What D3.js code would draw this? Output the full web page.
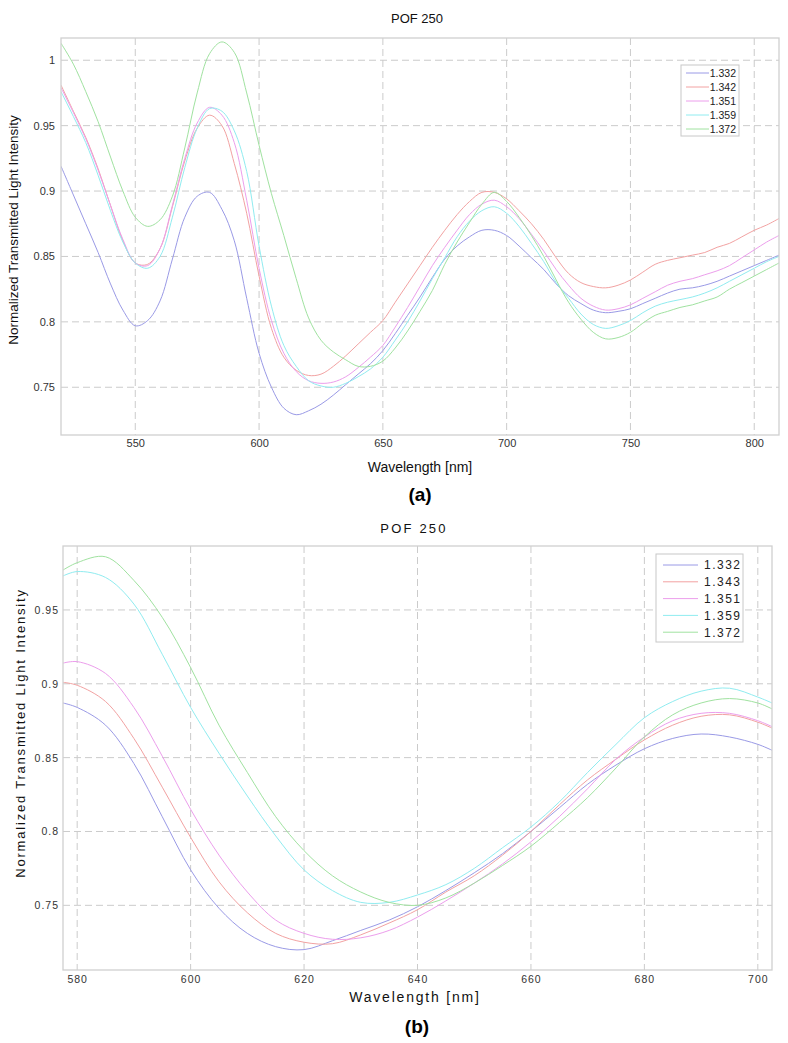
<!DOCTYPE html>
<html>
<head>
<meta charset="utf-8">
<script src="https://cdn.jsdelivr.net/npm/d3@7"></script>
<style>
  body { margin: 0; background: #fff; }
  svg text { font-family: "Liberation Sans", Arial, sans-serif; }
</style>
</head>
<body>
<svg id="fig" width="788" height="1043"></svg>
<script>
// ---- panel (a): full spectrum ----
const wavelengthA = [520,525,530,535,540,545,550,555,560,565,570,575,580,585,590,595,600,605,610,615,620,625,630,635,640,645,650,655,660,665,670,675,680,685,690,695,700,705,710,715,720,725,730,735,740,745,750,755,760,765,770,775,780,785,790,795,800,805,810];
const labelsA = ["1.332", "1.342", "1.351", "1.359", "1.372"];
const ri1332A = [0.919,0.897,0.875,0.853,0.829,0.809,0.797,0.801,0.816,0.848,0.880,0.896,0.899,0.886,0.862,0.818,0.776,0.750,0.734,0.729,0.732,0.737,0.744,0.752,0.760,0.768,0.778,0.791,0.805,0.819,0.834,0.848,0.858,0.865,0.870,0.870,0.866,0.858,0.849,0.840,0.829,0.820,0.814,0.809,0.807,0.808,0.810,0.814,0.818,0.822,0.825,0.826,0.828,0.831,0.835,0.839,0.843,0.847,0.851];
const ri1342A = [0.981,0.961,0.941,0.917,0.889,0.862,0.845,0.844,0.856,0.888,0.923,0.948,0.958,0.950,0.921,0.883,0.835,0.795,0.773,0.763,0.759,0.760,0.766,0.774,0.783,0.792,0.801,0.815,0.829,0.843,0.857,0.870,0.882,0.892,0.899,0.899,0.894,0.885,0.875,0.863,0.849,0.837,0.830,0.827,0.826,0.828,0.832,0.838,0.844,0.847,0.849,0.851,0.853,0.857,0.860,0.865,0.870,0.874,0.879];
const ri1351A = [0.979,0.960,0.940,0.916,0.889,0.863,0.845,0.843,0.856,0.889,0.925,0.952,0.964,0.958,0.937,0.893,0.841,0.801,0.776,0.762,0.755,0.753,0.754,0.758,0.765,0.773,0.782,0.796,0.811,0.827,0.843,0.857,0.870,0.882,0.890,0.893,0.888,0.879,0.867,0.854,0.840,0.828,0.818,0.812,0.809,0.810,0.813,0.818,0.823,0.828,0.831,0.833,0.836,0.839,0.843,0.849,0.855,0.861,0.866];
const ri1359A = [0.976,0.957,0.937,0.912,0.885,0.861,0.845,0.841,0.850,0.880,0.918,0.948,0.963,0.961,0.946,0.915,0.858,0.812,0.782,0.766,0.755,0.751,0.750,0.753,0.758,0.764,0.773,0.786,0.800,0.816,0.833,0.849,0.865,0.877,0.885,0.888,0.883,0.873,0.860,0.846,0.830,0.818,0.806,0.798,0.795,0.797,0.801,0.807,0.812,0.815,0.817,0.819,0.822,0.826,0.831,0.836,0.841,0.846,0.850];
const ri1372A = [1.013,0.997,0.976,0.953,0.926,0.900,0.880,0.873,0.878,0.896,0.933,0.975,1.005,1.014,1.006,0.975,0.935,0.898,0.866,0.833,0.803,0.786,0.777,0.771,0.766,0.766,0.770,0.780,0.793,0.808,0.824,0.844,0.861,0.876,0.890,0.899,0.892,0.880,0.866,0.850,0.832,0.815,0.802,0.792,0.787,0.788,0.792,0.799,0.805,0.808,0.811,0.813,0.816,0.819,0.825,0.830,0.835,0.840,0.845];
const xTicksA = [550, 600, 650, 700, 750, 800];
const yTicksA = [0.75, 0.8, 0.85, 0.9, 0.95, 1];

// ---- panel (b): zoom on the 577-703 nm band ----
const wavelengthB = [577.5,580,585,590,595,600,605,610,615,620,625,630,635,640,645,650,655,660,665,670,675,680,685,690,695,700,702.5];
const labelsB = ["1.332", "1.343", "1.351", "1.359", "1.372"];
const ri1332B = [0.887,0.884,0.872,0.846,0.810,0.774,0.748,0.731,0.722,0.720,0.726,0.733,0.740,0.749,0.760,0.772,0.785,0.800,0.816,0.832,0.845,0.856,0.863,0.866,0.864,0.859,0.855];
const ri1343B = [0.901,0.899,0.888,0.863,0.830,0.796,0.766,0.745,0.731,0.725,0.724,0.730,0.738,0.747,0.759,0.770,0.784,0.800,0.818,0.835,0.849,0.862,0.872,0.878,0.879,0.874,0.870];
const ri1351B = [0.914,0.915,0.907,0.884,0.851,0.815,0.784,0.759,0.740,0.731,0.727,0.728,0.733,0.742,0.753,0.765,0.778,0.793,0.810,0.829,0.849,0.864,0.875,0.880,0.880,0.875,0.871];
const ri1359B = [0.973,0.976,0.972,0.954,0.920,0.884,0.853,0.824,0.797,0.774,0.760,0.752,0.752,0.757,0.764,0.775,0.789,0.803,0.820,0.840,0.859,0.877,0.888,0.895,0.897,0.891,0.887];
const ri1372B = [0.977,0.982,0.986,0.970,0.945,0.911,0.872,0.840,0.810,0.787,0.770,0.759,0.752,0.750,0.755,0.765,0.777,0.790,0.806,0.823,0.843,0.864,0.879,0.887,0.890,0.887,0.883];
const xTicksB = [580, 600, 620, 640, 660, 680, 700];
const yTicksB = [0.75, 0.8, 0.85, 0.9, 0.95];

const lineColors = ["#9a9ae6", "#f2a2a2", "#ec9eec", "#90ecf0", "#a0e2a0"];

const svg = d3.select("#fig");
svg.append("rect").attr("width", 788).attr("height", 1043).attr("fill", "#fff");

function drawPanel(p) {
  const x = d3.scaleLinear().domain(p.xDomain).range([p.left, p.right]);
  const y = d3.scaleLinear().domain(p.yDomain).range([p.bottom, p.top]);
  const g = svg.append("g");

  g.append("clipPath").attr("id", p.id + "-clip")
    .append("rect").attr("x", p.left).attr("y", p.top)
    .attr("width", p.right - p.left).attr("height", p.bottom - p.top);

  // dashed grid
  g.append("g").selectAll("line").data(p.xTicks).join("line")
    .attr("x1", d => x(d)).attr("x2", d => x(d))
    .attr("y1", p.top).attr("y2", p.bottom)
    .attr("stroke", "#cbcbcb").attr("stroke-dasharray", "7,4");
  g.append("g").selectAll("line").data(p.yTicks).join("line")
    .attr("x1", p.left).attr("x2", p.right)
    .attr("y1", d => y(d)).attr("y2", d => y(d))
    .attr("stroke", "#cbcbcb").attr("stroke-dasharray", "7,4");

  // curves
  const line = d3.line().curve(d3.curveCatmullRom.alpha(0.5))
    .x((d, i) => x(p.wl[i])).y(d => y(d));
  g.append("g").attr("clip-path", `url(#${p.id}-clip)`)
    .selectAll("path").data(p.series).join("path")
    .attr("d", d => line(d))
    .attr("fill", "none")
    .attr("stroke", (d, i) => lineColors[i])
    .attr("stroke-width", 1);

  // frame
  g.append("rect")
    .attr("x", p.left).attr("y", p.top)
    .attr("width", p.right - p.left).attr("height", p.bottom - p.top)
    .attr("fill", "none").attr("stroke", "#d0d0d0").attr("stroke-width", 1.3);

  // axes
  const xAxis = g.append("g").attr("transform", `translate(0,${p.bottom})`)
    .call(d3.axisBottom(x).tickValues(p.xTicks).tickSize(0).tickPadding(p.xPad).tickFormat(d => String(d)));
  const yAxis = g.append("g").attr("transform", `translate(${p.left},0)`)
    .call(d3.axisLeft(y).tickValues(p.yTicks).tickSize(0).tickPadding(p.yPad).tickFormat(d => String(d)));
  [xAxis, yAxis].forEach(a => {
    a.select(".domain").remove();
    a.selectAll("text")
      .attr("font-family", '"Liberation Sans", Arial, sans-serif')
      .attr("font-size", p.tickSize).attr("fill", "#333")
      .attr("letter-spacing", p.tickSpacing);
  });

  // title + axis labels
  g.append("text").attr("x", p.titleX).attr("y", p.titleY)
    .attr("text-anchor", "middle").attr("font-size", 13)
    .attr("letter-spacing", p.titleSpacing).attr("fill", "#111")
    .text("POF 250");
  g.append("text").attr("x", p.xLabelX).attr("y", p.xLabelY)
    .attr("text-anchor", "middle").attr("font-size", 14)
    .attr("letter-spacing", p.labelSpacing).attr("fill", "#111")
    .text("Wavelength [nm]");
  g.append("text")
    .attr("transform", `translate(${p.yLabelX},${p.yLabelY}) rotate(-90)`)
    .attr("text-anchor", "middle").attr("font-size", p.yLabelSize)
    .attr("letter-spacing", p.labelSpacing).attr("fill", "#111")
    .text("Normalized Transmitted Light Intensity");

  // panel tag
  g.append("text").attr("x", p.tagX).attr("y", p.tagY)
    .attr("text-anchor", "middle").attr("font-size", 19).attr("font-weight", "bold")
    .attr("font-family", '"Liberation Serif", "Times New Roman", serif')
    .text(p.tag);

  // legend
  const L = p.legend;
  const lg = g.append("g");
  lg.append("rect").attr("x", L.x).attr("y", L.y).attr("width", L.w).attr("height", L.h)
    .attr("fill", "#fff").attr("stroke", "#c8c8c8");
  p.labels.forEach((name, i) => {
    const yy = L.row0 + i * L.dy;
    lg.append("line").attr("x1", L.lx1).attr("x2", L.lx2).attr("y1", yy).attr("y2", yy)
      .attr("stroke", lineColors[i]).attr("stroke-width", 1);
    lg.append("text").attr("x", L.tx).attr("y", yy + L.fs * 0.36)
      .attr("text-anchor", L.anchor).attr("font-size", L.fs)
      .attr("letter-spacing", L.spacing).attr("fill", "#222")
      .text(name);
  });
}

drawPanel({
  id: "pa", tag: "(a)",
  wl: wavelengthA, labels: labelsA,
  series: [ri1332A, ri1342A, ri1351A, ri1359A, ri1372A],
  xDomain: [520, 810], yDomain: [0.7135, 1.017],
  xTicks: xTicksA, yTicks: yTicksA,
  left: 61, right: 779, top: 38, bottom: 435,
  xPad: 4, yPad: 6, tickSize: 11, tickSpacing: 0,
  titleX: 417, titleY: 23, titleSpacing: 0,
  xLabelX: 420, xLabelY: 472, labelSpacing: 0,
  yLabelX: 18, yLabelY: 230, yLabelSize: 13.5,
  tagX: 420, tagY: 501,
  legend: { x: 681, y: 65, w: 58, h: 71, row0: 73, dy: 14, lx1: 686, lx2: 709,
            tx: 736, anchor: "end", fs: 10.5, spacing: 0 }
});

drawPanel({
  id: "pb", tag: "(b)",
  wl: wavelengthB, labels: labelsB,
  series: [ri1332B, ri1343B, ri1351B, ri1359B, ri1372B],
  xDomain: [577.5, 702.5], yDomain: [0.7062, 0.9933],
  xTicks: xTicksB, yTicks: yTicksB,
  left: 63, right: 772, top: 546, bottom: 970,
  xPad: 5.5, yPad: 4, tickSize: 10.5, tickSpacing: 1,
  titleX: 414, titleY: 533, titleSpacing: 2.2,
  xLabelX: 415, xLabelY: 1002, labelSpacing: 1.8,
  yLabelX: 25, yLabelY: 733, yLabelSize: 13,
  tagX: 417, tagY: 1033,
  legend: { x: 656, y: 554, w: 87, h: 88, row0: 565, dy: 16.8, lx1: 663, lx2: 698,
            tx: 704, anchor: "start", fs: 12, spacing: 1.5 }
});
</script>
</body>
</html>
